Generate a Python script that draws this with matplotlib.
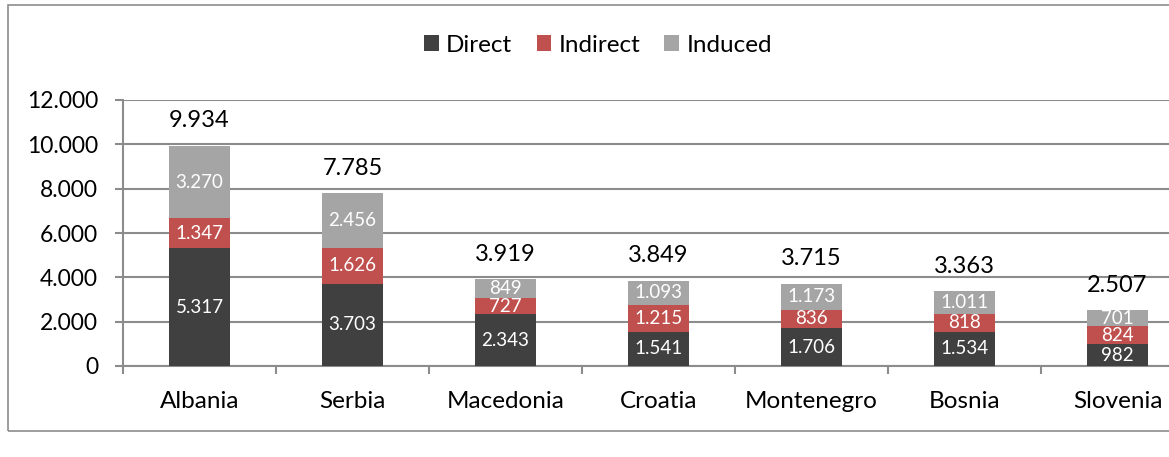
import matplotlib
matplotlib.use("Agg")
import matplotlib.pyplot as plt
from matplotlib.patches import Rectangle
from matplotlib.ticker import FuncFormatter
import numpy as np

countries = ["Albania", "Serbia", "Macedonia", "Croatia", "Montenegro", "Bosnia", "Slovenia"]
direct = [5317, 3703, 2343, 1541, 1706, 1534, 982]
indirect = [1347, 1626, 727, 1215, 836, 818, 824]
induced = [3270, 2456, 849, 1093, 1173, 1011, 701]
totals = [9934, 7785, 3919, 3849, 3715, 3363, 2507]
yticks = [0, 2000, 4000, 6000, 8000, 10000, 12000]

colors = {"Direct": "#404040", "Indirect": "#C0504D", "Induced": "#A5A5A5"}
grid_col = "#8C8C8C"

def fmt(v):
    return f"{v:,.0f}".replace(",", ".")

plt.rcParams["font.family"] = ["Lato", "DejaVu Sans"]

W, H = 1169, 457
fig = plt.figure(figsize=(W / 100, H / 100), dpi=100)
ax = fig.add_axes([123 / W, (H - 366) / H, 1071 / W, 266 / H])

x = np.arange(len(countries))
bw = 0.4
b1 = ax.bar(x, direct, bw, color=colors["Direct"], label="Direct", zorder=3)
b2 = ax.bar(x, indirect, bw, bottom=direct, color=colors["Indirect"], label="Indirect", zorder=3)
bot3 = [d + i for d, i in zip(direct, indirect)]
b3 = ax.bar(x, induced, bw, bottom=bot3, color=colors["Induced"], label="Induced", zorder=3)

for bars, vals, bots in [(b1, direct, [0] * 7), (b2, indirect, direct), (b3, induced, bot3)]:
    for xi, v, b in zip(x, vals, bots):
        ax.text(xi, b + v / 2, fmt(v), ha="center", va="center", color="white", fontsize=13.5, zorder=4)

for xi, t in zip(x, totals):
    ax.annotate(fmt(t), (xi, t), xytext=(0, 18), textcoords="offset points",
                ha="center", va="center", fontsize=17, color="black")

ax.set_xlim(-0.5, 6.5)
ax.set_ylim(0, 12000)
ax.set_yticks(yticks)
ax.yaxis.set_major_formatter(FuncFormatter(lambda v, p: fmt(v)))
ax.set_xticks(x)
ax.set_xticklabels(countries)
ax.set_xticks(np.arange(-0.5, 7, 1), minor=True)
ax.tick_params(axis="x", which="major", length=0, pad=18, labelsize=17.5)
ax.tick_params(axis="x", which="minor", length=6, color=grid_col, width=1.5)
ax.tick_params(axis="y", length=6, color=grid_col, width=1.5, labelsize=16.5, pad=12)
ax.yaxis.grid(True, color=grid_col, linewidth=1.5, zorder=0)
ax.set_axisbelow(True)
for s in ["top", "right"]:
    ax.spines[s].set_visible(False)
for s in ["left", "bottom"]:
    ax.spines[s].set_color(grid_col)
    ax.spines[s].set_linewidth(1.5)

fig.legend(handles=[b1, b2, b3], labels=["Direct", "Indirect", "Induced"],
           loc="center", bbox_to_anchor=(598 / W, (H - 45) / H), ncol=3, frameon=False,
           fontsize=17.5, handlelength=0.6, handleheight=0.6, handletextpad=0.3, columnspacing=1.0)

fig.patches.append(Rectangle((8 / W, (H - 431) / H), 1.2, 426 / H, transform=fig.transFigure,
                             fill=False, edgecolor="#8C8C8C", linewidth=1.2))

fig.savefig("out.png", dpi=100)
